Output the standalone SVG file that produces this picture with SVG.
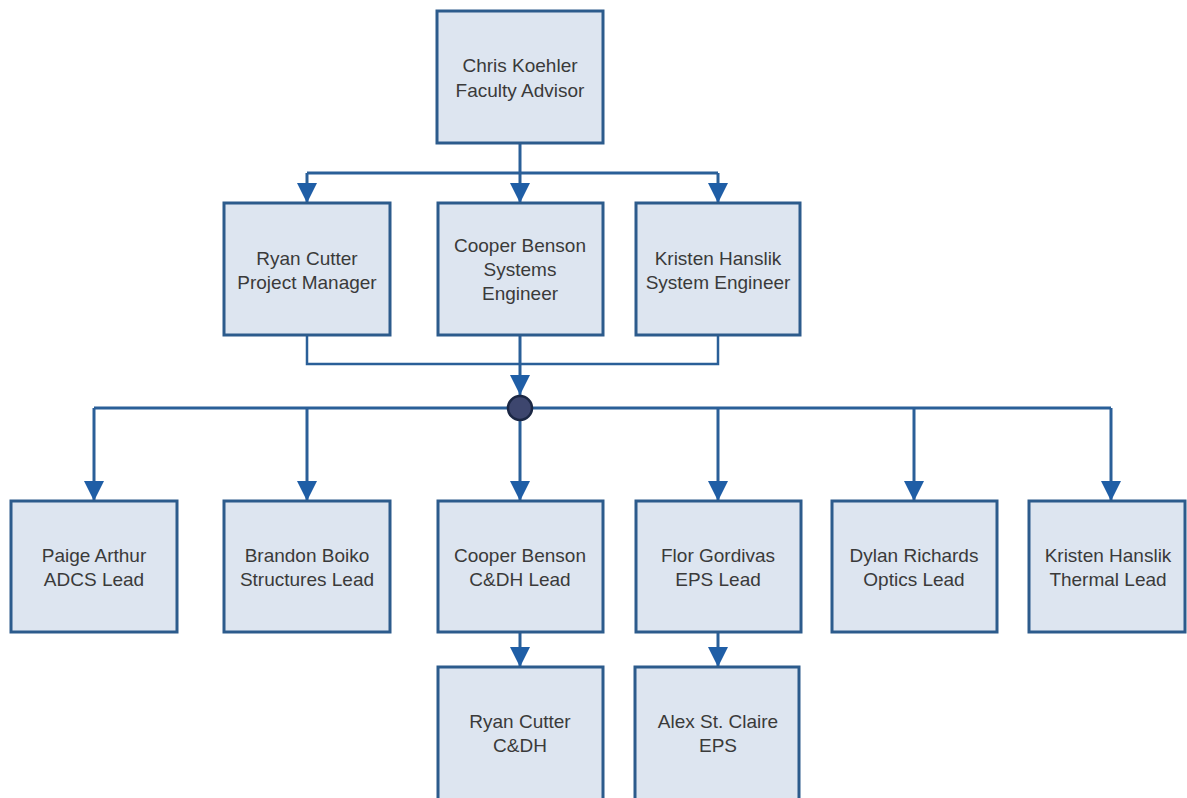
<svg xmlns="http://www.w3.org/2000/svg" width="1187" height="798" viewBox="0 0 1187 798">
<style>
.box{fill:#dde5f0;stroke:#2c5b8c;stroke-width:3}
.lbl{font-family:"Liberation Sans",Arial,sans-serif;font-size:19px;fill:#3a3a3a;text-anchor:middle}
.wire{fill:none;stroke:#2a5f98;stroke-width:3}
.thin{fill:none;stroke:#2a5f98;stroke-width:2.5}
</style>
<defs>
<marker id="arr" viewBox="0 0 20 20" refX="20" refY="10" markerWidth="20" markerHeight="20" markerUnits="userSpaceOnUse" orient="auto">
<path d="M0,0 L20,10 L0,20 Z" fill="#1f5ea6"/>
</marker>
</defs>
<rect width="1187" height="798" fill="#ffffff"/>
<g id="connectors">
<path class="wire" d="M520,143 V203" marker-end="url(#arr)"/>
<path class="wire" d="M307,173 H718"/>
<path class="wire" d="M307,173 V203" marker-end="url(#arr)"/>
<path class="wire" d="M718,173 V203" marker-end="url(#arr)"/>
<path class="thin" d="M307,335 V364 H718 V335"/>
<path class="wire" d="M520,335 V395" marker-end="url(#arr)"/>
<path class="wire" d="M94,408 H1111"/>
<path class="wire" d="M94,408 V501" marker-end="url(#arr)"/>
<path class="wire" d="M307,408 V501" marker-end="url(#arr)"/>
<path class="wire" d="M520,408 V501" marker-end="url(#arr)"/>
<path class="wire" d="M718,408 V501" marker-end="url(#arr)"/>
<path class="wire" d="M914,408 V501" marker-end="url(#arr)"/>
<path class="wire" d="M1111,408 V501" marker-end="url(#arr)"/>
<path class="wire" d="M520,632 V667" marker-end="url(#arr)"/>
<path class="wire" d="M718,632 V667" marker-end="url(#arr)"/>
<circle cx="520" cy="408" r="12" fill="#3d466e" stroke="#1b2744" stroke-width="2.5"/>
</g>
<g id="n-koehler"><rect class="box" x="437" y="11" width="166" height="132"/><text class="lbl" x="520" y="72">Chris Koehler</text><text class="lbl" x="520" y="97">Faculty Advisor</text></g>
<g id="n-cutter-pm"><rect class="box" x="224" y="203" width="166" height="132"/><text class="lbl" x="307" y="265">Ryan Cutter</text><text class="lbl" x="307" y="289">Project Manager</text></g>
<g id="n-benson-se"><rect class="box" x="438" y="203" width="165" height="132"/><text class="lbl" x="520" y="252">Cooper Benson</text><text class="lbl" x="520" y="276">Systems</text><text class="lbl" x="520" y="300">Engineer</text></g>
<g id="n-hanslik-se"><rect class="box" x="636" y="203" width="164" height="132"/><text class="lbl" x="718" y="265">Kristen Hanslik</text><text class="lbl" x="718" y="289">System Engineer</text></g>
<g id="n-arthur"><rect class="box" x="11" y="501" width="166" height="131"/><text class="lbl" x="94" y="562">Paige Arthur</text><text class="lbl" x="94" y="586">ADCS Lead</text></g>
<g id="n-boiko"><rect class="box" x="224" y="501" width="166" height="131"/><text class="lbl" x="307" y="562">Brandon Boiko</text><text class="lbl" x="307" y="586">Structures Lead</text></g>
<g id="n-benson-cdh"><rect class="box" x="438" y="501" width="165" height="131"/><text class="lbl" x="520" y="562">Cooper Benson</text><text class="lbl" x="520" y="586">C&amp;DH Lead</text></g>
<g id="n-gordivas"><rect class="box" x="636" y="501" width="165" height="131"/><text class="lbl" x="718" y="562">Flor Gordivas</text><text class="lbl" x="718" y="586">EPS Lead</text></g>
<g id="n-richards"><rect class="box" x="832" y="501" width="165" height="131"/><text class="lbl" x="914" y="562">Dylan Richards</text><text class="lbl" x="914" y="586">Optics Lead</text></g>
<g id="n-hanslik-th"><rect class="box" x="1029" y="501" width="156" height="131"/><text class="lbl" x="1108" y="562">Kristen Hanslik</text><text class="lbl" x="1108" y="586">Thermal Lead</text></g>
<g id="n-cutter-cdh"><rect class="box" x="438" y="667" width="165" height="133"/><text class="lbl" x="520" y="728">Ryan Cutter</text><text class="lbl" x="520" y="752">C&amp;DH</text></g>
<g id="n-stclaire"><rect class="box" x="635" y="667" width="164" height="133"/><text class="lbl" x="718" y="728">Alex St. Claire</text><text class="lbl" x="718" y="752">EPS</text></g>
</svg>
